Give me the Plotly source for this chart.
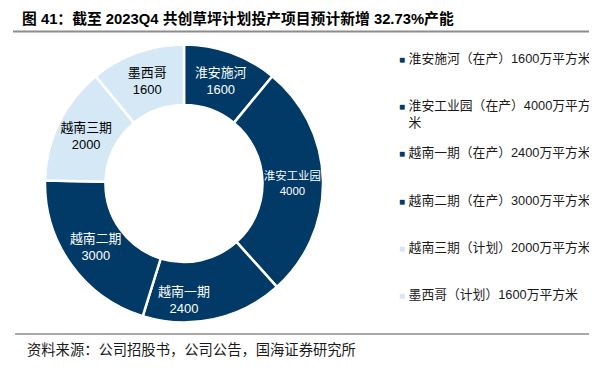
import plotly.graph_objects as go

# ---- data ----
slice_names = ["淮安施河", "淮安工业园", "越南一期", "越南二期", "越南三期", "墨西哥"]
slice_values = [1600, 4000, 2400, 3000, 2000, 1600]
slice_status = ["在产", "在产", "在产", "在产", "计划", "计划"]
legend_first = [
    "淮安施河（在产）1600万平方米",
    "淮安工业园（在产）4000万平方",
    "越南一期（在产）2400万平方米",
    "越南二期（在产）3000万平方米",
    "越南三期（计划）2000万平方米",
    "墨西哥（计划）1600万平方米",
]
legend_second = ["　", "米", "　", "　", "　", "　"]
title_text = "图 41：截至 2023Q4 共创草坪计划投产项目预计新增 32.73%产能"
source_text = "资料来源：公司招股书，公司公告，国海证券研究所"

DARK = "#023A67"
LIGHT = "#D5E8F6"
colors = [DARK if s == "在产" else LIGHT for s in slice_status]
text_colors = ["white" if s == "在产" else "black" for s in slice_status]

FONT = "Arial, 'Liberation Sans', 'Noto Sans CJK SC', sans-serif"
OFF = 8  # page body margin
FW, FH = 597 - OFF, 370 - OFF


def px(x):  # screen x -> paper
    return (x - OFF) / FW


def py(y):  # screen y -> paper
    return 1 - (y - OFF) / FH


fig = go.Figure()

fig.add_trace(go.Pie(
    labels=slice_names,
    values=slice_values,
    text=[f"{n}<br>{v}" for n, v in zip(slice_names, slice_values)],
    textinfo="text",
    textposition="inside",
    insidetextorientation="horizontal",
    insidetextfont=dict(family=FONT, size=13, color=text_colors),
    marker=dict(colors=colors, line=dict(color="white", width=2.5)),
    hole=0.565,
    sort=False,
    direction="clockwise",
    rotation=0,
    showlegend=False,
    domain=dict(x=[px(45), px(323)], y=[py(323), py(44)]),
    hoverinfo="label+value",
))

for i, (l1, l2, c) in enumerate(zip(legend_first, legend_second, colors)):
    box = '<span style="color:{};font-size:10px">■</span> '
    name = box.format(c) + l1 + "<br>" + box.format("rgba(0,0,0,0)") + l2
    fig.add_trace(go.Scatter(
        x=[None], y=[None], mode="markers",
        marker=dict(symbol="square", size=6, color="rgba(0,0,0,0)"),
        name=name, legendgroup=f"g{i}", showlegend=True,
    ))

fig.update_layout(
    width=FW, height=FH,
    margin=dict(l=0, r=0, t=0, b=0, autoexpand=False),
    paper_bgcolor="white", plot_bgcolor="white",
    xaxis=dict(visible=False), yaxis=dict(visible=False),
    font=dict(family=FONT, color="#1a1a1a"),
    title=dict(
        text=f"<b>{title_text}</b>",
        x=px(22), xanchor="left", xref="paper",
        y=py(19), yanchor="middle", yref="container",
        font=dict(family=FONT, size=14.8, color="black"),
    ),
    legend=dict(
        x=px(359), xanchor="left", y=py(43), yanchor="top",
        font=dict(family=FONT, size=12.8, color="#1a1a1a"),
        valign="top", tracegroupgap=11, bgcolor="rgba(0,0,0,0)",
        itemclick=False, itemdoubleclick=False,
    ),
    shapes=[
        dict(type="line", xref="paper", yref="paper",
             x0=px(13), x1=1, y0=py(31.5), y1=py(31.5),
             line=dict(color="#8c8c8c", width=2)),
        dict(type="line", xref="paper", yref="paper",
             x0=px(15), x1=1, y0=py(334), y1=py(334),
             line=dict(color="#555555", width=1)),
    ],
    annotations=[
        dict(text=source_text, xref="paper", yref="paper",
             x=px(25), y=py(350), xanchor="left", yanchor="middle",
             showarrow=False, font=dict(family=FONT, size=14.3, color="#1a1a1a")),
    ],
)

fig.write_html("out.html")
